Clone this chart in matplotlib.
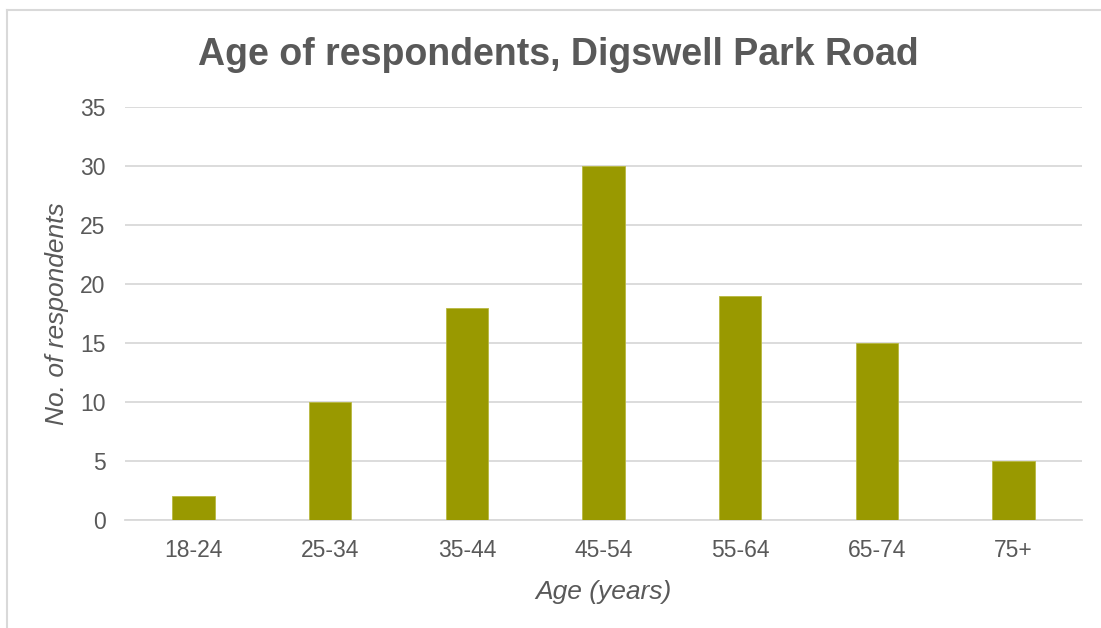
import matplotlib.pyplot as plt
from matplotlib.lines import Line2D

age_groups = ["18-24", "25-34", "35-44", "45-54", "55-64", "65-74", "75+"]
respondents = [2, 10, 18, 30, 19, 15, 5]
y_ticks = [0, 5, 10, 15, 20, 25, 30, 35]

BAR_COLOR = "#999900"
GRID_COLOR = "#d9d9d9"
TEXT_COLOR = "#595959"

plt.rcParams["font.family"] = ["Liberation Sans", "DejaVu Sans"]

fig = plt.figure(figsize=(11.01, 6.28), dpi=100)
W, H = 1101, 628
ax = fig.add_axes([125 / W, 1 - 520 / H, (1082 - 125) / W, (520 - 107) / H])

x = range(len(age_groups))
ax.bar(x, respondents, width=0.31, color=BAR_COLOR, edgecolor="#b8b840",
       linewidth=0.6, zorder=3)

ax.set_xlim(-0.5, len(age_groups) - 0.5)
ax.set_ylim(0, 35)
ax.set_yticks(y_ticks)
ax.set_xticks(list(x))
ax.set_xticklabels(age_groups)
ax.yaxis.grid(True, color=GRID_COLOR, linewidth=1.3, zorder=0)
ax.set_axisbelow(True)
for side in ("top", "right", "left"):
    ax.spines[side].set_visible(False)
ax.spines["bottom"].set_color(GRID_COLOR)
ax.spines["bottom"].set_linewidth(1.3)
ax.tick_params(axis="both", length=0, labelsize=16.5, colors=TEXT_COLOR)
ax.tick_params(axis="y", pad=14)
ax.tick_params(axis="x", pad=13.5)

ax.set_ylabel("No. of respondents", fontsize=19, style="italic",
              color=TEXT_COLOR, labelpad=8)
ax.set_xlabel("Age (years)", fontsize=19, style="italic",
              color=TEXT_COLOR, labelpad=13)

fig.text(558 / W, 1 - 55 / H, "Age of respondents, Digswell Park Road",
         fontsize=27, fontweight="bold", color=TEXT_COLOR,
         ha="center", va="center")

# chart frame (top and left edges)
fig.add_artist(Line2D([7 / W, 1.0], [1 - 10 / H, 1 - 10 / H],
                      color=GRID_COLOR, linewidth=1.5))
fig.add_artist(Line2D([7 / W, 7 / W], [0.0, 1 - 10 / H],
                      color=GRID_COLOR, linewidth=1.5))

fig.savefig("out.png", dpi=100)
